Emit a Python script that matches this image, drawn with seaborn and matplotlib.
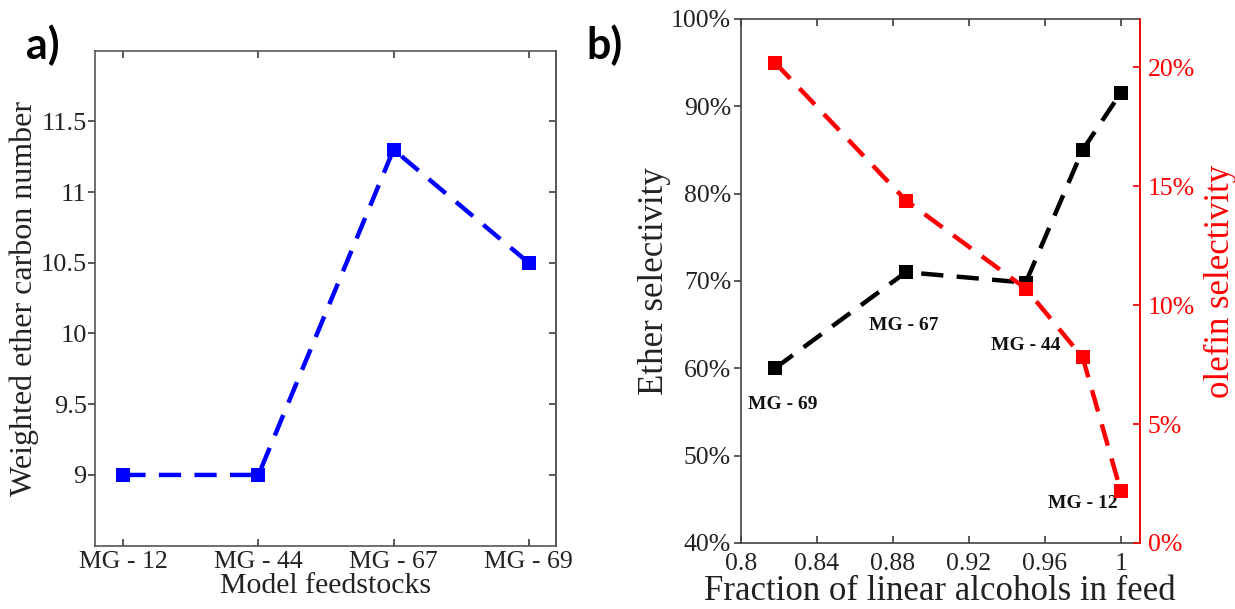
import matplotlib
matplotlib.use("Agg")
import matplotlib.pyplot as plt
import seaborn as sns
import pandas as pd
from matplotlib.ticker import PercentFormatter, FixedLocator

# ---- data ----
feedstocks = ["MG - 12", "MG - 44", "MG - 67", "MG - 69"]
carbon_number = [9.0, 9.0, 11.3, 10.5]

linear_fraction = [0.818, 0.887, 0.950, 0.980, 1.000]
ether_sel = [0.600, 0.710, 0.698, 0.850, 0.915]
olefin_sel = [0.202, 0.144, 0.107, 0.078, 0.022]

point_labels = ["MG - 69", "MG - 67", "MG - 44", "MG - 12"]
label_x = [0.822, 0.886, 0.950, 0.980]
label_y = [0.558, 0.649, 0.626, 0.445]

sns.set_theme(style="ticks")
plt.rcParams['font.family'] = ['Liberation Serif', 'DejaVu Serif']

fig = plt.figure(figsize=(12.35, 6.09), dpi=100)
ax1 = fig.add_axes([0.0769, 0.104, 0.373, 0.813])
ax2 = fig.add_axes([0.5998, 0.1084, 0.323, 0.8607])

dash = (5, 3)
tick_c = "#444444"
text_c = "#222222"

# ---- panel a ----
df1 = pd.DataFrame({"feed": feedstocks, "cn": carbon_number})
sns.lineplot(data=df1, x="feed", y="cn", ax=ax1, color=(0, 0, 1), lw=3.2,
             marker="s", markersize=10, markeredgewidth=0, sort=False)
ax1.lines[0].set_dashes(dash)
ax1.set_xlim(-0.21, 3.2)
ax1.set_ylim(8.5, 12.0)
yt1 = [9, 9.5, 10, 10.5, 11, 11.5]
ax1.set_yticks(yt1)
ax1.set_yticklabels(["9", "9.5", "10", "10.5", "11", "11.5"])
ax1.set_xlabel("Model feedstocks", fontsize=21.5, labelpad=0, color=text_c)
ax1.set_ylabel("Weighted ether carbon number", fontsize=23, labelpad=1, color=text_c)
ax1.tick_params(axis="x", direction="in", top=True, labelsize=18.5, length=5,
                color=tick_c, labelcolor=text_c, pad=4)
ax1.tick_params(axis="y", direction="out", left=True, right=False, labelsize=19,
                length=5, color=tick_c, labelcolor=text_c, pad=1)
sec1 = ax1.secondary_yaxis("right", functions=(lambda v: v, lambda v: v))
sec1.set_yticks(yt1)
sec1.tick_params(direction="in", length=5, color=tick_c, labelright=False)
sec1.spines["right"].set_color("#555555")
sec1.spines["right"].set_linewidth(1.2)
for s in ax1.spines.values():
    s.set_color("#555555")
    s.set_linewidth(1.2)

# ---- panel b ----
df2 = pd.DataFrame({"frac": linear_fraction, "ether": ether_sel, "olefin": olefin_sel})
sns.lineplot(data=df2, x="frac", y="ether", ax=ax2, color="black", lw=3.2,
             marker="s", markersize=10, markeredgewidth=0, sort=False)
ax2.lines[0].set_dashes(dash)
ax2.set_xlim(0.8, 1.01)
ax2.set_ylim(0.4, 1.0)
ax2.xaxis.set_major_locator(FixedLocator([0.8, 0.84, 0.88, 0.92, 0.96, 1.0]))
ax2.set_xticklabels(["0.8", "0.84", "0.88", "0.92", "0.96", "1"])
ax2.set_yticks([0.4, 0.5, 0.6, 0.7, 0.8, 0.9, 1.0])
ax2.yaxis.set_major_formatter(PercentFormatter(1.0, decimals=0))
ax2.set_xlabel("Fraction of linear alcohols in feed", fontsize=25, labelpad=0, color=text_c)
ax2.set_ylabel("Ether selectivity", fontsize=25, labelpad=0, color=text_c)
ax2.tick_params(axis="x", direction="in", top=True, labelsize=18.5, length=5,
                color=tick_c, labelcolor=text_c, pad=7)
ax2.tick_params(axis="y", direction="out", right=False, labelsize=18.5, length=5,
                color=tick_c, labelcolor=text_c, pad=2)
for s in ax2.spines.values():
    s.set_color("#444444")
    s.set_linewidth(1.2)

ax3 = ax2.twinx()
sns.lineplot(data=df2, x="frac", y="olefin", ax=ax3, color=(1, 0, 0), lw=3.2,
             marker="s", markersize=10, markeredgewidth=0, sort=False)
ax3.lines[0].set_dashes(dash)
ax3.set_ylim(0.0, 0.2204)
ax3.set_yticks([0, 0.05, 0.10, 0.15, 0.20])
ax3.yaxis.set_major_formatter(PercentFormatter(1.0, decimals=0))
ax3.set_ylabel("olefin selectivity", fontsize=25, color=(1, 0, 0), labelpad=6)
ax3.tick_params(axis="y", direction="in", labelsize=18.5, length=5,
                colors=(1, 0, 0), pad=6)
ax3.spines["right"].set_color((1, 0, 0))
ax3.spines["right"].set_linewidth(1.2)
for k in ["left", "top", "bottom"]:
    ax3.spines[k].set_visible(False)

for lab, x, y in zip(point_labels, label_x, label_y):
    ax2.text(x, y, lab, ha="center", va="center", fontsize=14, fontweight="bold",
             color="#111111")

# panel letters
fig.text(0.021, 0.925, "a)", fontsize=31, fontweight="bold", family="Lato",
         ha="left", va="center", color="black")
fig.text(0.475, 0.925, "b)", fontsize=31, fontweight="bold", family="Lato",
         ha="left", va="center", color="black")

fig.savefig("out.png", dpi=100)
